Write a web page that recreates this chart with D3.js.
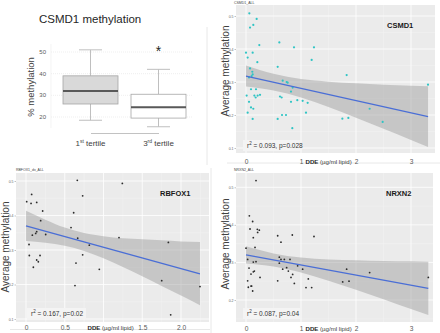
<!DOCTYPE html>
<html lang="en">
<head>
    <meta charset="UTF-8">
    <title>CSMD1 / RBFOX1 / NRXN2 methylation vs DDE</title>
    <script src="https://d3js.org/d3.v7.min.js"></script>
    <style>
        body { margin: 0; background: #fff; }
        svg text { font-family: "Liberation Sans", Arial, sans-serif; }
    </style>
</head>
<body>
    <div id="chart"></div>

    <script>
        // Box plot: CSMD1 % methylation by DDE tertile
        const tertiles = ["1st tertile", "3rd tertile"];
        const boxMin = [18.5, 15.5];
        const boxQ1 = [26, 19.5];
        const boxMedian = [32, 24.5];
        const boxQ3 = [39, 30.5];
        const boxMax = [51, 42];
        const boxTicks = [20, 30, 40, 50];

        // CSMD1 scatter (DDE ug/ml lipid vs average methylation)
        const csmd1DDE = [0.061, 0.194, 0.073, 0.133, 0.242, 0, 0.030, 0.121, 0.206, 0.073, 0.115, 0.121, 0.103, 0.055, 0.091, 0.182, 0.012, 0.055, 0.152, 0.212, 0.255, 0.176, 0.091, 0.133, 0.030, 0.121, 0.606, 0.873, 1.236, 1.194, 0.576, 0.667, 0.739, 0.758, 0.848, 0.818, 0.618, 0.648, 0.818, 0.933, 1.030, 1.121, 1.091, 0.576, 0.727, 0.655, 0.842, 1.830, 1.752, 1.861, 2.248, 2.485, 3.309];
        const csmd1Meth = [0.508, 0.491, 0.465, 0.473, 0.412, 0.389, 0.374, 0.389, 0.360, 0.341, 0.331, 0.323, 0.318, 0.314, 0.278, 0.278, 0.259, 0.240, 0.259, 0.259, 0.261, 0.253, 0.223, 0.219, 0.207, 0.188, 0.420, 0.405, 0.405, 0.367, 0.346, 0.304, 0.300, 0.298, 0.283, 0.271, 0.256, 0.253, 0.240, 0.245, 0.243, 0.237, 0.207, 0.188, 0.200, 0.200, 0.160, 0.321, 0.189, 0.191, 0.219, 0.179, 0.292];
        const csmd1FitX = [0, 3.31];
        const csmd1FitY = [0.318, 0.195];
        const csmd1BandX = [0, 0.5, 1, 1.5, 2, 2.5, 3, 3.31];
        const csmd1BandHi = [0.350, 0.325, 0.309, 0.301, 0.296, 0.292, 0.289, 0.287];
        const csmd1BandLo = [0.286, 0.274, 0.253, 0.224, 0.192, 0.158, 0.124, 0.103];
        const csmd1YTicks = [0.1, 0.2, 0.3, 0.4, 0.5];

        // RBFOX1 scatter
        const rbfox1DDE = [0.009, 0.073, 0.065, 0.138, 0.215, 0.189, 0.138, 0.125, 0.082, 0.254, 0.039, 0.043, 0.181, 0.138, 0.159, 0.095, 0.662, 1.243, 0.731, 0.615, 0.581, 0.667, 1.2, 0.817, 0.731, 0.645, 0.946, 0.632, 1.837, 1.751, 2.245, 1.867];
        const rbfox1Meth = [0.440, 0.461, 0.435, 0.438, 0.413, 0.385, 0.353, 0.348, 0.343, 0.345, 0.316, 0.284, 0.284, 0.271, 0.266, 0.250, 0.502, 0.493, 0.457, 0.408, 0.365, 0.334, 0.336, 0.314, 0.286, 0.262, 0.244, 0.197, 0.322, 0.211, 0.194, 0.112];
        const rbfox1FitX = [0, 2.245];
        const rbfox1FitY = [0.370, 0.231];
        const rbfox1BandX = [0, 0.25, 0.5, 0.75, 1, 1.25, 1.5, 1.75, 2, 2.245];
        const rbfox1BandHi = [0.414, 0.388, 0.365, 0.349, 0.340, 0.334, 0.331, 0.328, 0.325, 0.323];
        const rbfox1BandLo = [0.326, 0.321, 0.312, 0.297, 0.276, 0.251, 0.224, 0.196, 0.168, 0.140];
        const rbfox1YTicks = [0.1, 0.2, 0.3, 0.4, 0.5];

        // NRXN2 scatter
        const nrxn2DDE = [0.182, 0.061, 0.121, 0.073, 0.206, 0.242, 0.212, 0.133, 0, 0.164, 0.030, 0.182, 0.133, 0.055, 0.091, 0.133, 0.152, 0.255, 0.030, 0.103, 0.042, 0.091, 0.121, 0.576, 0.842, 0.636, 1.236, 0.606, 0.636, 0.697, 0.606, 0.8, 0.667, 0.739, 0.770, 0.848, 0.818, 0.939, 1.030, 0.576, 0.879, 1.133, 1.091, 1.194, 1.830, 1.758, 1.873, 2.248, 3.315];
        const nrxn2Meth = [0.518, 0.424, 0.409, 0.389, 0.388, 0.386, 0.380, 0.366, 0.338, 0.340, 0.308, 0.302, 0.301, 0.285, 0.269, 0.275, 0.277, 0.260, 0.251, 0.237, 0.234, 0.237, 0.224, 0.371, 0.373, 0.354, 0.369, 0.314, 0.308, 0.308, 0.298, 0.308, 0.282, 0.286, 0.277, 0.268, 0.260, 0.291, 0.282, 0.251, 0.244, 0.256, 0.233, 0.233, 0.282, 0.248, 0.250, 0.273, 0.260];
        const nrxn2FitX = [0, 3.315];
        const nrxn2FitY = [0.320, 0.231];
        const nrxn2BandX = [0, 0.5, 1, 1.5, 2, 2.5, 3, 3.315];
        const nrxn2BandHi = [0.343, 0.324, 0.313, 0.308, 0.306, 0.304, 0.303, 0.302];
        const nrxn2BandLo = [0.297, 0.289, 0.273, 0.251, 0.227, 0.202, 0.176, 0.160];
        const nrxn2YTicks = [0.2, 0.3, 0.4, 0.5];

        const svg = d3.select("#chart")
            .append("svg")
            .attr("width", 440)
            .attr("height", 333);

        // faint edges of the pasted panels
        const edges = [[207, 27, 207, 165], [211, 168, 211, 333], [227, 163, 440, 163], [10, 329.5, 210, 329.5]];
        svg.selectAll("line.edge")
            .data(edges)
            .enter()
            .append("line")
            .attr("x1", d => d[0]).attr("y1", d => d[1])
            .attr("x2", d => d[2]).attr("y2", d => d[3])
            .attr("stroke", "#e2e2e2")
            .attr("stroke-width", 0.8);

        // ---------- box plot ----------
        const bx = d3.scalePoint().domain(tertiles).range([90.5, 158.5]);
        const by = d3.scaleLinear().domain([20, 50]).range([117, 52]);
        const boxW = 55, capW = 23;
        const boxG = svg.append("g");

        boxG.append("text")
            .attr("x", 39).attr("y", 22.5)
            .attr("font-size", 11.5)
            .attr("fill", "#262626")
            .text("CSMD1 methylation");

        boxG.selectAll("line.grid")
            .data(boxTicks)
            .enter()
            .append("line")
            .attr("x1", 51).attr("x2", 192)
            .attr("y1", d => by(d)).attr("y2", d => by(d))
            .attr("stroke", "#e4e4e4")
            .attr("stroke-dasharray", "1,1")
            .attr("stroke-width", 0.6);

        boxG.append("line")
            .attr("x1", 51).attr("x2", 51)
            .attr("y1", 44).attr("y2", 128)
            .attr("stroke", "#ececec")
            .attr("stroke-width", 0.6);

        boxG.selectAll("text.tick")
            .data(boxTicks)
            .enter()
            .append("text")
            .attr("x", 46)
            .attr("y", d => by(d) + 2)
            .attr("text-anchor", "end")
            .attr("font-size", 6)
            .attr("fill", "#595959")
            .text(d => d);

        boxG.append("text")
            .attr("transform", "translate(30,87) rotate(-90)")
            .attr("text-anchor", "middle")
            .attr("dominant-baseline", "central")
            .attr("font-size", 9.5)
            .attr("fill", "#404040")
            .text("% methylation");

        // x axis line between categories
        boxG.append("g")
            .attr("transform", "translate(0,133)")
            .call(d3.axisBottom(bx).tickSize(0).tickSizeOuter(0).tickFormat(""))
            .call(g => g.select(".domain").attr("stroke", "#b3b3b3").attr("stroke-width", 0.8));

        const boxes = boxG.selectAll("g.box")
            .data(tertiles)
            .enter()
            .append("g");

        // whiskers
        boxes.append("line")
            .attr("x1", d => bx(d)).attr("x2", d => bx(d))
            .attr("y1", (d, i) => by(boxMax[i])).attr("y2", (d, i) => by(boxQ3[i]))
            .attr("stroke", "#bfbfbf");
        boxes.append("line")
            .attr("x1", d => bx(d)).attr("x2", d => bx(d))
            .attr("y1", (d, i) => by(boxQ1[i])).attr("y2", (d, i) => by(boxMin[i]))
            .attr("stroke", "#bfbfbf");
        boxes.append("line")
            .attr("x1", d => bx(d) - capW / 2).attr("x2", d => bx(d) + capW / 2)
            .attr("y1", (d, i) => by(boxMax[i])).attr("y2", (d, i) => by(boxMax[i]))
            .attr("stroke", "#bfbfbf");
        boxes.append("line")
            .attr("x1", d => bx(d) - capW / 2).attr("x2", d => bx(d) + capW / 2)
            .attr("y1", (d, i) => by(boxMin[i])).attr("y2", (d, i) => by(boxMin[i]))
            .attr("stroke", "#bfbfbf");

        boxes.append("rect")
            .attr("x", d => bx(d) - boxW / 2)
            .attr("y", (d, i) => by(boxQ3[i]))
            .attr("width", boxW)
            .attr("height", (d, i) => by(boxQ1[i]) - by(boxQ3[i]))
            .attr("fill", (d, i) => i === 0 ? "#d9d9d9" : "#ffffff")
            .attr("stroke", "#a6a6a6")
            .attr("stroke-width", 0.8);

        boxes.append("line")
            .attr("x1", d => bx(d) - boxW / 2).attr("x2", d => bx(d) + boxW / 2)
            .attr("y1", (d, i) => by(boxMedian[i])).attr("y2", (d, i) => by(boxMedian[i]))
            .attr("stroke", "#595959")
            .attr("stroke-width", 2);

        // category labels with superscripts
        const catLabels = boxG.selectAll("text.cat")
            .data(tertiles)
            .enter()
            .append("text")
            .attr("x", d => bx(d))
            .attr("y", 146)
            .attr("text-anchor", "middle")
            .attr("font-size", 8)
            .attr("fill", "#404040");
        catLabels.append("tspan").text(d => d.split(" ")[0].slice(0, 1));
        catLabels.append("tspan")
            .attr("font-size", 5)
            .attr("dy", -3)
            .text(d => d.split(" ")[0].slice(1));
        catLabels.append("tspan")
            .attr("dy", 3)
            .text(d => " " + d.split(" ")[1]);

        boxG.append("text")
            .attr("x", bx(tertiles[1]))
            .attr("y", by(boxMax[1]) - 13)
            .attr("text-anchor", "middle")
            .attr("font-size", 14)
            .attr("fill", "#262626")
            .text("*");

        // ---------- scatter panels ----------
        function scatterPanel(p) {
            const g = svg.append("g");
            const x = d3.scaleLinear().domain(p.xDomain).range(p.xRange);
            const y = d3.scaleLinear().domain(p.yDomain).range(p.yRange);
            const [l, t, r, b] = p.box;

            g.append("text")
                .attr("x", p.tag[0]).attr("y", p.tag[1])
                .attr("font-size", 3.5)
                .attr("fill", "#444")
                .text(p.tagText);

            g.append("rect")
                .attr("x", l).attr("y", t)
                .attr("width", r - l).attr("height", b - t)
                .attr("fill", "#ebebeb");

            // grid: minor then major
            const xStep = p.xGrid[1] - p.xGrid[0];
            const xMinor = d3.range(p.xGrid[0] - xStep / 2, x.invert(r), xStep).filter(v => x(v) > l && x(v) < r);
            const yStep = p.yTicks[1] - p.yTicks[0];
            const yMinor = d3.range(p.yTicks[0] - yStep / 2, y.invert(t), yStep).filter(v => y(v) > t && y(v) < b);
            g.selectAll("line.xminor").data(xMinor).enter().append("line")
                .attr("x1", d => x(d)).attr("x2", d => x(d)).attr("y1", t).attr("y2", b)
                .attr("stroke", "#f6f6f6").attr("stroke-width", 0.4);
            g.selectAll("line.yminor").data(yMinor).enter().append("line")
                .attr("y1", d => y(d)).attr("y2", d => y(d)).attr("x1", l).attr("x2", r)
                .attr("stroke", "#f6f6f6").attr("stroke-width", 0.4);
            g.selectAll("line.xmajor").data(p.xGrid).enter().append("line")
                .attr("x1", d => x(d)).attr("x2", d => x(d)).attr("y1", t).attr("y2", b)
                .attr("stroke", "#ffffff").attr("stroke-width", 0.8);
            g.selectAll("line.ymajor").data(p.yTicks).enter().append("line")
                .attr("y1", d => y(d)).attr("y2", d => y(d)).attr("x1", l).attr("x2", r)
                .attr("stroke", "#ffffff").attr("stroke-width", 0.8);

            // tiny y axis
            g.append("g")
                .attr("transform", `translate(${l},0)`)
                .call(d3.axisLeft(y).tickValues(p.yTicks).tickSize(1.5).tickPadding(1).tickFormat(d3.format(".1f")))
                .call(a => a.select(".domain").remove())
                .call(a => a.selectAll("line").attr("stroke", "#666").attr("stroke-width", 0.4))
                .call(a => a.selectAll("text").attr("font-size", 3.5).attr("fill", "#666")
                    .attr("font-family", "Liberation Sans, Arial, sans-serif"));

            // band and fit
            const band = p.bandX.map((v, i) => ({ x: v, lo: p.bandLo[i], hi: p.bandHi[i] }));
            g.append("path")
                .datum(band)
                .attr("fill", "#999999")
                .attr("fill-opacity", 0.45)
                .attr("d", d3.area().curve(d3.curveMonotoneX)
                    .x(d => x(d.x)).y0(d => y(d.lo)).y1(d => y(d.hi)));

            const pts = p.xs.map((v, i) => ({ x: v, y: p.ys[i] }));
            g.selectAll("circle")
                .data(pts)
                .enter()
                .append("circle")
                .attr("cx", d => x(d.x))
                .attr("cy", d => y(d.y))
                .attr("r", p.r)
                .attr("fill", p.color);

            const fit = p.fitX.map((v, i) => ({ x: v, y: p.fitY[i] }));
            g.append("path")
                .datum(fit)
                .attr("fill", "none")
                .attr("stroke", "#4a6ed6")
                .attr("stroke-width", 1.2)
                .attr("d", d3.line().x(d => x(d.x)).y(d => y(d.y)));

            // x tick labels (pasted over the panel)
            g.append("g")
                .attr("transform", `translate(0,${p.labelY - 2.5})`)
                .call(d3.axisBottom(x).tickValues(p.xTicks).tickSize(0).tickPadding(0).tickFormat(p.xFmt))
                .call(a => a.select(".domain").remove())
                .call(a => a.selectAll("text").attr("font-size", 6.6).attr("fill", "#595959")
                    .attr("font-family", "Liberation Sans, Arial, sans-serif"));

            const dde = g.append("text")
                .attr("x", p.ddeX)
                .attr("y", p.labelY + 2.3)
                .attr("font-size", 6.1)
                .attr("fill", "#404040");
            dde.append("tspan").attr("font-weight", "bold").attr("fill", "#262626").text("DDE");
            dde.append("tspan").text(" (\u00b5g/ml lipid)");

            g.append("text")
                .attr("transform", `translate(${p.yTitle[0]},${p.yTitle[1]}) rotate(-90)`)
                .attr("text-anchor", "middle")
                .attr("dominant-baseline", "central")
                .attr("font-size", 10)
                .attr("fill", "#404040")
                .text("Average methylation");

            g.append("text")
                .attr("x", p.gene[0]).attr("y", p.gene[1])
                .attr("font-size", 7.5)
                .attr("font-weight", "bold")
                .attr("fill", "#1a1a1a")
                .text(p.geneText);

            g.append("rect")
                .attr("x", p.rBox[0]).attr("y", p.rBox[1])
                .attr("width", p.rBox[2] - p.rBox[0]).attr("height", p.rBox[3] - p.rBox[1])
                .attr("fill", "#f4f4f4");
            const rt = g.append("text")
                .attr("x", p.rBox[0] + 4)
                .attr("y", (p.rBox[1] + p.rBox[3]) / 2 + 2.3)
                .attr("font-size", 6.5)
                .attr("fill", "#333");
            rt.append("tspan").text("r");
            rt.append("tspan").attr("font-size", 4.5).attr("dy", -2.5).text("2");
            rt.append("tspan").attr("dy", 2.5).text(" = " + p.r2 + ", p=" + p.pval);
        }

        const fmtPlain = d => d3.format("d")(d);
        const fmtHalf = d => d === 0 ? "0" : d3.format(".1f")(d);

        scatterPanel({
            xs: csmd1DDE, ys: csmd1Meth, fitX: csmd1FitX, fitY: csmd1FitY,
            bandX: csmd1BandX, bandLo: csmd1BandLo, bandHi: csmd1BandHi, yTicks: csmd1YTicks,
            box: [236, 5, 435, 153], xDomain: [0, 3], xRange: [246, 411],
            yDomain: [0.1, 0.5], yRange: [148, 16],
            xGrid: [0, 1, 2, 3], xTicks: [0, 1, 2, 3], xFmt: fmtPlain,
            labelY: 161.7, ddeX: 305.5, yTitle: [225, 71],
            gene: [387, 28], geneText: "CSMD1",
            rBox: [243, 140, 302, 151], r2: "0.093", pval: "0.028",
            tag: [234, 3.5], tagText: "CSMD1_ALL",
            color: "#2ec4c4", r: 1.1
        });

        scatterPanel({
            xs: rbfox1DDE, ys: rbfox1Meth, fitX: rbfox1FitX, fitY: rbfox1FitY,
            bandX: rbfox1BandX, bandLo: rbfox1BandLo, bandHi: rbfox1BandHi, yTicks: rbfox1YTicks,
            box: [16, 173, 209, 322], xDomain: [0, 2], xRange: [26, 181],
            yDomain: [0.1, 0.5], yRange: [319, 181],
            xGrid: [0, 0.5, 1, 1.5, 2], xTicks: [0, 0.5, 1.5, 2], xFmt: fmtHalf,
            labelY: 328, ddeX: 87.5, yTitle: [5, 247],
            gene: [160, 195.5], geneText: "RBFOX1",
            rBox: [27, 308, 86, 318.5], r2: "0.167", pval: "0.02",
            tag: [16, 170.5], tagText: "RBFOX1_dx_ALL",
            color: "#2b2b2b", r: 0.9
        });

        scatterPanel({
            xs: nrxn2DDE, ys: nrxn2Meth, fitX: nrxn2FitX, fitY: nrxn2FitY,
            bandX: nrxn2BandX, bandLo: nrxn2BandLo, bandHi: nrxn2BandHi, yTicks: nrxn2YTicks,
            box: [236, 173, 433, 322], xDomain: [0, 3], xRange: [246, 411],
            yDomain: [0.2, 0.5], yRange: [300, 187.3],
            xGrid: [0, 1, 2, 3], xTicks: [0, 1, 2, 3], xFmt: fmtPlain,
            labelY: 328.5, ddeX: 305.5, yTitle: [225, 244],
            gene: [386, 195.5], geneText: "NRXN2",
            rBox: [243, 308, 300, 319], r2: "0.087", pval: "0.04",
            tag: [234, 170.5], tagText: "NRXN2_ALL",
            color: "#2b2b2b", r: 0.9
        });
    </script>
</body>
</html>
